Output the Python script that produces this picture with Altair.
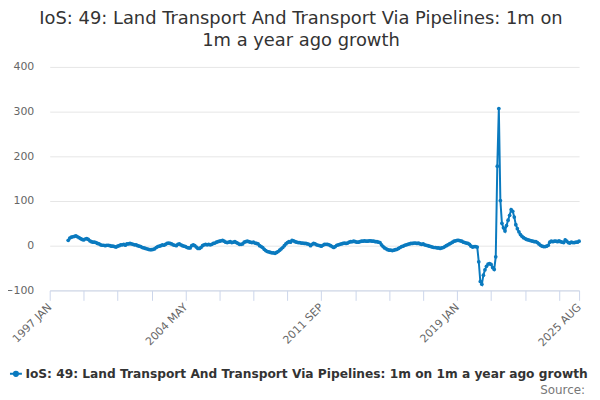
import altair as alt
import pandas as pd

# ---------------- data ----------------
title_lines = ["IoS: 49: Land Transport And Transport Via Pipelines: 1m on", "1m a year ago growth"]
series_name = "IoS: 49: Land Transport And Transport Via Pipelines: 1m on 1m a year ago growth"
source_text = "Source:"

axis_start = "1997-01"     # first month on the axis
first_month = "1998-01"    # first month with a value
last_month = "2025-08"     # last month with a value

growth = [
    12, 17, 19, 20, 21, 22, 20, 18, 16, 14,
    13, 15, 16, 14, 11, 9, 8, 8, 7, 5,
    4, 2, 1, 1, 0, 1, 1, 0, -1, -1,
    -2, -3, -1, 0, 2, 2, 3, 1, 4, 4,
    5, 4, 3, 2, 2, 0, -1, -2, -4, -5,
    -6, -7, -8, -9, -9, -8, -7, -4, -2, -1,
    0, 2, 1, 3, 5, 6, 5, 4, 2, 1,
    0, 3, 4, 2, 0, -1, -2, -4, -5, -5,
    0, 2, 0, -3, -6, -6, -4, 0, 2, 3,
    2, 3, 2, 3, 5, 6, 8, 9, 10, 11,
    12, 10, 8, 7, 8, 9, 7, 8, 9, 7,
    5, 3, 3, 4, 8, 9, 10, 9, 8, 7,
    8, 6, 5, 4, 0, -2, -4, -8, -11, -13,
    -14, -15, -16, -16, -17, -15, -13, -10, -7, -4,
    0, 4, 7, 9, 8, 12, 11, 9, 8, 7,
    7, 6, 6, 5, 5, 4, 3, 0, 3, 5,
    4, 2, 1, 0, -1, 1, 3, 3, 3, 2,
    0, -2, -4, -2, 1, 2, 3, 4, 5, 6,
    5, 6, 8, 9, 9, 10, 9, 8, 8, 9,
    10, 10, 11, 10, 10, 11, 11, 10, 10, 9,
    9, 8, 7, 2, -2, -5, -7, -9, -10, -10,
    -11, -10, -9, -8, -6, -4, -2, -1, 1, 2,
    3, 4, 5, 5, 6, 6, 5, 6, 4, 3,
    4, 2, 1, 0, -1, -2, -3, -4, -4, -5,
    -5, -6, -5, -4, -2, 0, 2, 4, 6, 8,
    10, 11, 12, 12, 11, 10, 8, 7, 6, 5,
    3, -1, -3, -2, -2, -3, -36, -80, -86, -66,
    -54, -46, -41, -40, -42, -49, -53, -25, 178, 307,
    101, 50, 40, 33, 45, 57, 68, 81, 77, 64,
    47, 38, 31, 25, 21, 18, 16, 14, 13, 12,
    11, 10, 9, 9, 7, 4, 1, -1, -2, -2,
    -1, 1, 8, 10, 9, 10, 10, 9, 11, 9,
    8, 7, 13, 10, 7, 6, 8, 7, 7, 8,
    8, 10,
]

x_label_text = ["1997 JAN", "2004 MAY", "2011 SEP", "2019 JAN", "2025 AUG"]
tick_step_months = 22
y_ticks = [-100, 0, 100, 200, 300, 400]

# ---------------- build table ----------------
MON = ["JAN", "FEB", "MAR", "APR", "MAY", "JUN", "JUL", "AUG", "SEP", "OCT", "NOV", "DEC"]
start = pd.Period(axis_start, freq="M")


def month_index(p):
    return (p.year - start.year) * 12 + (p.month - start.month)


months = pd.period_range(first_month, last_month, freq="M")
assert len(months) == len(growth)
df = pd.DataFrame({
    "idx": [month_index(p) for p in months],
    "month": [f"{p.year} {MON[p.month - 1]}" for p in months],
    "value": growth,
    "series": series_name,
})

end_idx = month_index(pd.Period(last_month, freq="M"))
tick_values = list(range(0, end_idx, tick_step_months)) + [end_idx]


def label_index(s):
    y, m = s.split(" ")
    return (int(y) - start.year) * 12 + MON.index(m)


label_expr = "''"
for t in reversed(x_label_text):
    label_expr = f"datum.value == {label_index(t)} ? '{t}' : ({label_expr})"

BLUE = "#0a7abf"
FONT = "DejaVu Sans"

line = alt.Chart(df).mark_line(
    strokeWidth=2,
    point=alt.OverlayMarkDef(size=14, filled=True),
).encode(
    x=alt.X(
        "idx:Q",
        scale=alt.Scale(domain=[0, end_idx], nice=False, zero=False),
        axis=alt.Axis(
            values=tick_values, labelExpr=label_expr, grid=False,
            domainColor="#ccd6eb", tickColor="#ccd6eb", tickSize=10,
            labelAngle=-45, labelAlign="right", labelBaseline="middle",
            labelPadding=5, labelFontSize=11, labelColor="#666666",
            labelFont=FONT, labelOverlap=False, labelFlush=False,
            labelBound=False, title=None,
        ),
    ),
    y=alt.Y(
        "value:Q",
        scale=alt.Scale(domain=[y_ticks[0], y_ticks[-1]], nice=False),
        axis=alt.Axis(
            values=y_ticks, grid=True, gridColor="#e6e6e6", domain=False,
            ticks=False, labelPadding=16, labelFontSize=11,
            labelColor="#666666", labelFont=FONT, title=None,
        ),
    ),
    color=alt.Color(
        "series:N",
        scale=alt.Scale(range=[BLUE]),
        legend=alt.Legend(
            title=None, orient="none", legendX=-41, legendY=302,
            symbolType="M-1,0L1,0M-0.35,0A0.35,0.35,0,1,1,0.35,0A0.35,0.35,0,1,1,-0.35,0Z",
            symbolSize=144, symbolStrokeWidth=2,
            symbolFillColor=BLUE, symbolStrokeColor=BLUE,
            labelFontSize=12.3, labelFontWeight="bold", labelFont=FONT,
            labelColor="#333333", labelLimit=0, labelOffset=2.5,
            padding=0, offset=0,
        ),
    ),
)

source = alt.Chart(pd.DataFrame({"t": [source_text]})).mark_text(
    align="right", baseline="alphabetic", fontSize=12, font=FONT, color="#777777",
).encode(
    x=alt.value(539),
    y=alt.value(329),
    text="t:N",
)

chart = alt.layer(line, source).properties(
    width=533,
    height=225,
    title=alt.TitleParams(
        text=title_lines, fontSize=18, font=FONT, fontWeight="normal",
        color="#333333", anchor="middle", dx=-13.5, offset=11, lineHeight=22,
    ),
    autosize=alt.AutoSizeParams(type="none"),
    padding={"left": 42, "top": 58, "right": 13, "bottom": 105},
).configure_view(stroke=None)

chart.save("out.html", embed_options={"renderer": "svg", "actions": False})
